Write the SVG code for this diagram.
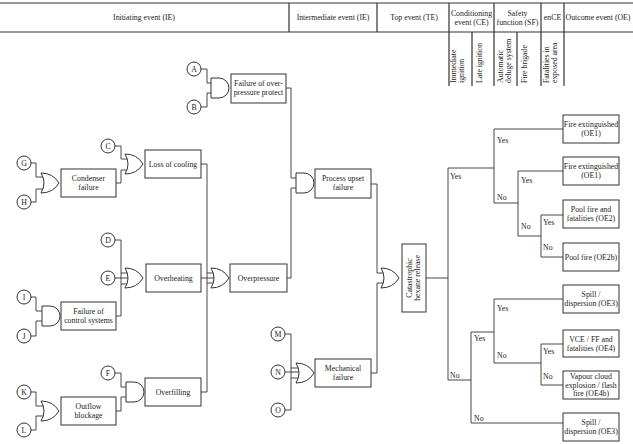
<svg xmlns="http://www.w3.org/2000/svg" xmlns:xlink="http://www.w3.org/1999/xlink" width="633" height="444" viewBox="0 0 633 444">
<style>
text{font-family:"Liberation Serif","Times New Roman",serif;font-size:7.8px;fill:#222}
.c{text-anchor:middle}
.hd{stroke:#333;stroke-width:1.2;fill:none}
.box{fill:#fff;stroke:#333;stroke-width:1}
.ln{fill:none;stroke:#333;stroke-width:0.9}
.g{fill:#fff;stroke:#333;stroke-width:1}
.circ{fill:#fff;stroke:#333;stroke-width:1}
</style>
<defs>
<path id="or" class="g" d="M0,0 Q6,10 0,20 Q12,20 18,10 Q12,0 0,0 Z"/>
<path id="and" class="g" d="M0,0 H8 A10,10 0 0 1 8,20 H0 Z"/>
</defs>
<rect width="633" height="444" fill="#fff"/>
<g id="header">
<path class="hd" d="M0,3 H633 M0,32 H633 M289,3 V32 M377,3 V32 M449,3 V86 M494,3 V86 M541,3 V86 M564,3 V86 M472,32 V86 M517,32 V86"/>
<text class="c" x="144" y="20">Initiating event (IE)</text>
<text class="c" x="333" y="20">Intermediate event (IE)</text>
<text class="c" x="414" y="20">Top event (TE)</text>
<text class="c" x="471.5" y="15.5">Conditioning</text>
<text class="c" x="471.5" y="24.5">event (CE)</text>
<text class="c" x="517.5" y="15.5">Safety</text>
<text class="c" x="517.5" y="24.5">function (SF)</text>
<text class="c" x="552.5" y="20">enCE</text>
<text class="c" x="598" y="20">Outcome event (OE)</text>
<text transform="translate(456,83) rotate(-90)">Immediate</text>
<text transform="translate(463.5,83) rotate(-90)">ignition</text>
<text transform="translate(482,83) rotate(-90)">Late ignition</text>
<text transform="translate(503,83) rotate(-90)">Automatic</text>
<text transform="translate(510.5,83) rotate(-90)">deluge system</text>
<text transform="translate(527,83) rotate(-90)">Fire brigade</text>
<text transform="translate(549,83) rotate(-90)">Fatalities in</text>
<text transform="translate(556.5,83) rotate(-90)">exposed area</text>
</g>
<g id="connectors">
<path class="ln" d="M201,69 H207 V83 H212 M201,107 H207 V93 H212"/>
<path class="ln" d="M286,88 H291 V178 H297 M287,278 H291 V188 H297"/>
<path class="ln" d="M31,163 H36 V177 H43 M31,202 H36 V189 H43"/>
<path class="ln" d="M116,183 H121 V170 H128 M115,146 H121 V159 H128"/>
<path class="ln" d="M201,164 H207 V392 H201 M207,273 H214 M207,283 H214 M201,278 H214"/>
<path class="ln" d="M115,240 H121 V316 H116 M121,273 H127 M121,284 H127 M115,278 H128"/>
<path class="ln" d="M31,297 H36 V311 H42 M31,336 H36 V321 H42"/>
<path class="ln" d="M115,373 H121 V387 H126 M116,411 H121 V397 H126"/>
<path class="ln" d="M31,392 H36 V406 H43 M31,430 H36 V416 H43"/>
<path class="ln" d="M285,334 H291 V410 H285 M285,372 H299 M291,368 H298 M291,378 H298"/>
<path class="ln" d="M371,184 H377 V273 H383 M371,373 H377 V283 H383"/>
<path class="ln" d="M426,278 H448"/>
<path class="ln" d="M448,168 V380 M448,168 H494 M494,129 V203 M494,129 H563 M494,203 H518 M518,171 V236 M518,171 H563 M518,236 H541 M541,215 V257 M541,215 H563 M541,257 H563"/>
<path class="ln" d="M448,380 H471 M471,332 V423 M471,332 H494 M494,299 V363 M494,299 H563 M494,363 H541 M541,344 V385 M541,344 H563 M541,385 H563 M471,423 H563"/>
</g>
<g id="labels">
<text x="450" y="179">Yes</text>
<text x="450" y="378">No</text>
<text x="497" y="143">Yes</text>
<text x="497" y="200">No</text>
<text x="521" y="183">Yes</text>
<text x="521" y="229">No</text>
<text x="543" y="225">Yes</text>
<text x="543" y="250">No</text>
<text x="474" y="341">Yes</text>
<text x="474" y="421">No</text>
<text x="497" y="311">Yes</text>
<text x="497" y="358">No</text>
<text x="543" y="354">Yes</text>
<text x="543" y="379">No</text>
</g>
<g id="nA"><circle class="circ" cx="194" cy="69" r="7"/><text class="c" x="194" y="72">A</text></g>
<g id="nB"><circle class="circ" cx="194" cy="107" r="7"/><text class="c" x="194" y="110">B</text></g>
<g id="nC"><circle class="circ" cx="108" cy="146" r="7"/><text class="c" x="108" y="149">C</text></g>
<g id="nD"><circle class="circ" cx="108" cy="240" r="7"/><text class="c" x="108" y="243">D</text></g>
<g id="nE"><circle class="circ" cx="108" cy="278" r="7"/><text class="c" x="108" y="281">E</text></g>
<g id="nF"><circle class="circ" cx="108" cy="373" r="7"/><text class="c" x="108" y="376">F</text></g>
<g id="nG"><circle class="circ" cx="24" cy="163" r="7"/><text class="c" x="24" y="166">G</text></g>
<g id="nH"><circle class="circ" cx="24" cy="202" r="7"/><text class="c" x="24" y="205">H</text></g>
<g id="nI"><circle class="circ" cx="24" cy="297" r="7"/><text class="c" x="24" y="300">I</text></g>
<g id="nJ"><circle class="circ" cx="24" cy="336" r="7"/><text class="c" x="24" y="339">J</text></g>
<g id="nK"><circle class="circ" cx="24" cy="392" r="7"/><text class="c" x="24" y="395">K</text></g>
<g id="nL"><circle class="circ" cx="24" cy="430" r="7"/><text class="c" x="24" y="433">L</text></g>
<g id="nM"><circle class="circ" cx="278" cy="334" r="7"/><text class="c" x="278" y="337">M</text></g>
<g id="nN"><circle class="circ" cx="278" cy="372" r="7"/><text class="c" x="278" y="375">N</text></g>
<g id="nO"><circle class="circ" cx="278" cy="410" r="7"/><text class="c" x="278" y="413">O</text></g>
<g id="failureOverpressureProtect"><use href="#and" x="211" y="78"/><rect class="box" x="231" y="74" width="55" height="29"/><text class="c" x="258.5" y="86">Failure of over-</text><text class="c" x="258.5" y="95">pressure protect</text></g>
<g id="condenserFailure"><use href="#or" x="41" y="173"/><rect class="box" x="61" y="169" width="55" height="28"/><text class="c" x="88.5" y="181">Condenser</text><text class="c" x="88.5" y="190">failure</text></g>
<g id="lossOfCooling"><use href="#or" x="125" y="154"/><rect class="box" x="145" y="150" width="56" height="28"/><text class="c" x="173" y="167">Loss of cooling</text></g>
<g id="overheating"><use href="#or" x="125" y="268"/><rect class="box" x="146" y="264" width="55" height="28"/><text class="c" x="173.5" y="281">Overheating</text></g>
<g id="failureControlSystems"><use href="#and" x="42" y="306"/><rect class="box" x="61" y="302" width="55" height="28"/><text class="c" x="88.5" y="314">Failure of</text><text class="c" x="88.5" y="323">control systems</text></g>
<g id="overfilling"><use href="#and" x="126" y="382"/><rect class="box" x="145" y="378" width="56" height="28"/><text class="c" x="173" y="395">Overfilling</text></g>
<g id="outflowBlockage"><use href="#or" x="41" y="401"/><rect class="box" x="61" y="397" width="55" height="28"/><text class="c" x="88.5" y="409">Outflow</text><text class="c" x="88.5" y="418">blockage</text></g>
<g id="overpressure"><use href="#or" x="211" y="268"/><rect class="box" x="230" y="264" width="57" height="28"/><text class="c" x="258.5" y="281">Overpressure</text></g>
<g id="processUpsetFailure"><use href="#and" x="296" y="173"/><rect class="box" x="315" y="169" width="56" height="29"/><text class="c" x="343" y="181">Process upset</text><text class="c" x="343" y="190">failure</text></g>
<g id="mechanicalFailure"><use href="#or" x="296" y="363"/><rect class="box" x="315" y="359" width="56" height="28"/><text class="c" x="343" y="371">Mechanical</text><text class="c" x="343" y="380">failure</text></g>
<g id="catastrophicRelease"><use href="#or" x="381" y="268"/><rect class="box" x="402" y="244" width="24" height="68"/><text class="c" transform="translate(412,278) rotate(-90)">Catastrophic</text><text class="c" transform="translate(420,278) rotate(-90)">hexane release</text></g>
<g id="oe1a"><rect class="box" x="563" y="115" width="56" height="28"/><text class="c" x="591" y="127">Fire extinguished</text><text class="c" x="591" y="136">(OE1)</text></g>
<g id="oe1b"><rect class="box" x="563" y="157" width="56" height="28"/><text class="c" x="591" y="169">Fire extinguished</text><text class="c" x="591" y="178">(OE1)</text></g>
<g id="oe2"><rect class="box" x="563" y="200" width="56" height="28"/><text class="c" x="591" y="212">Pool fire and</text><text class="c" x="591" y="221">fatalities (OE2)</text></g>
<g id="oe2b"><rect class="box" x="563" y="243" width="56" height="28"/><text class="c" x="591" y="260">Pool fire (OE2b)</text></g>
<g id="oe3a"><rect class="box" x="563" y="285" width="56" height="28"/><text class="c" x="591" y="297">Spill /</text><text class="c" x="591" y="306">dispersion (OE3)</text></g>
<g id="oe4"><rect class="box" x="563" y="330" width="56" height="27"/><text class="c" x="591" y="341.5">VCE / FF and</text><text class="c" x="591" y="350.5">fatalities (OE4)</text></g>
<g id="oe4b"><rect class="box" x="563" y="371" width="56" height="28"/><text class="c" x="591" y="379">Vapour cloud</text><text class="c" x="591" y="387.5">explosion / flash</text><text class="c" x="591" y="396">fire (OE4b)</text></g>
<g id="oe3b"><rect class="box" x="563" y="413" width="56" height="28"/><text class="c" x="591" y="425">Spill /</text><text class="c" x="591" y="434">dispersion (OE3)</text></g>
</svg>
